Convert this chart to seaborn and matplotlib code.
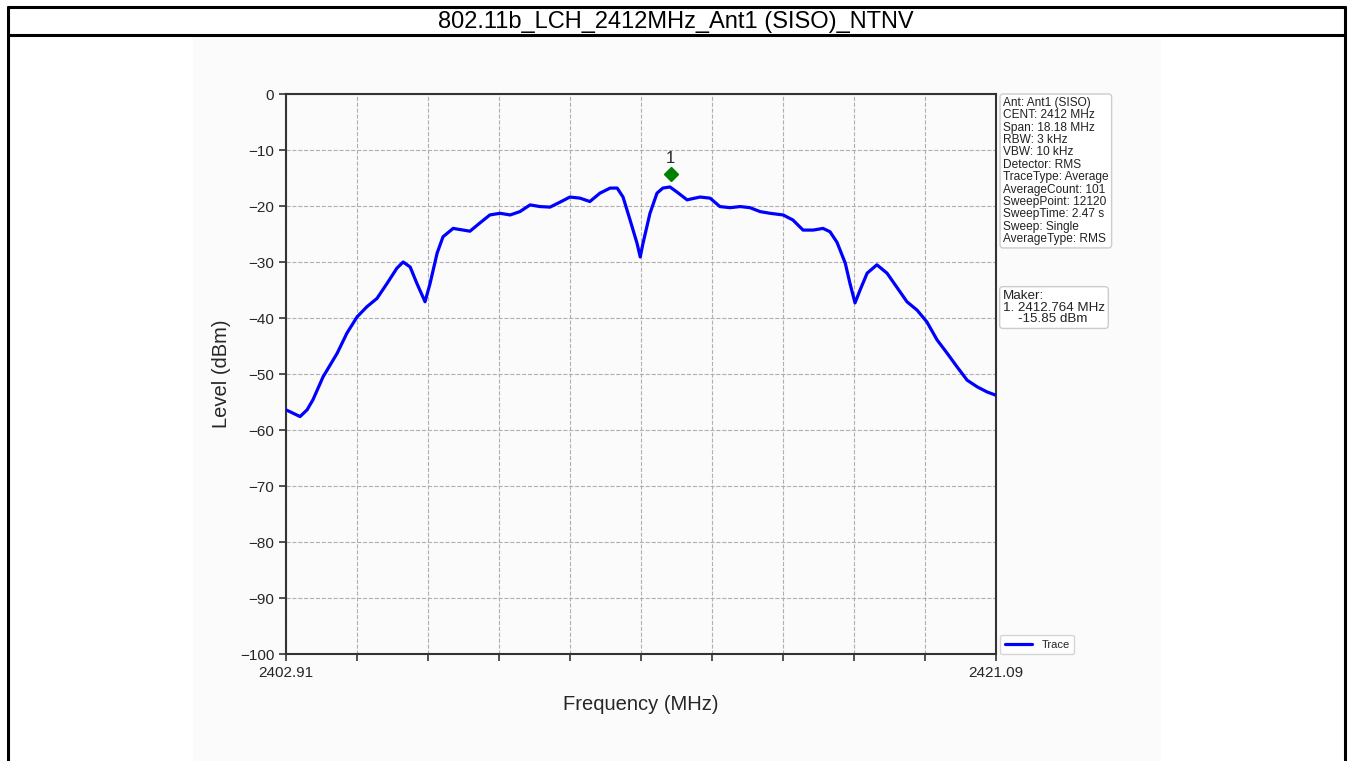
import numpy as np
import pandas as pd
import matplotlib
matplotlib.use("Agg")
import matplotlib.pyplot as plt
import seaborn as sns
from matplotlib.patches import Rectangle
from matplotlib.lines import Line2D

# spectrum trace (MHz, dBm)
freq_mhz = [2402.91, 2403.27, 2403.45, 2403.60, 2403.86, 2404.22, 2404.47, 2404.73,
            2404.98, 2405.24, 2405.50, 2405.75, 2405.91, 2406.09, 2406.26, 2406.47,
            2406.60, 2406.78, 2406.93, 2407.19, 2407.62, 2407.88, 2408.13, 2408.39,
            2408.65, 2408.90, 2409.16, 2409.41, 2409.67, 2409.93, 2410.18, 2410.44,
            2410.69, 2410.95, 2411.21, 2411.39, 2411.54, 2411.72, 2411.90, 2411.98,
            2412.05, 2412.23, 2412.41, 2412.56, 2412.74, 2412.92, 2413.18, 2413.51,
            2413.77, 2414.02, 2414.28, 2414.54, 2414.79, 2415.05, 2415.30, 2415.64,
            2415.89, 2416.15, 2416.41, 2416.66, 2416.84, 2417.02, 2417.23, 2417.35,
            2417.48, 2417.61, 2417.79, 2418.04, 2418.30, 2418.56, 2418.81, 2419.07,
            2419.32, 2419.58, 2419.84, 2420.09, 2420.35, 2420.61, 2420.86, 2421.09]
level_dbm = [-56.4, -57.6, -56.4, -54.6, -50.5, -46.3, -42.7, -39.8,
             -38.0, -36.5, -33.8, -31.1, -30.0, -30.9, -33.8, -37.1,
             -33.8, -28.4, -25.5, -24.0, -24.5, -23.0, -21.6, -21.3,
             -21.6, -21.0, -19.8, -20.1, -20.2, -19.3, -18.4, -18.6,
             -19.2, -17.7, -16.8, -16.8, -18.4, -22.5, -26.7, -29.1,
             -26.7, -21.3, -17.7, -16.8, -16.6, -17.5, -18.9, -18.4,
             -18.6, -20.1, -20.3, -20.1, -20.3, -21.0, -21.3, -21.6,
             -22.5, -24.3, -24.3, -24.0, -24.6, -26.5, -30.2, -33.8,
             -37.3, -35.0, -32.0, -30.5, -32.0, -34.6, -37.1, -38.6,
             -40.7, -43.9, -46.3, -48.7, -51.1, -52.3, -53.2, -53.8]

marker_freq = 2412.764
marker_level = -15.85

title = "802.11b_LCH_2412MHz_Ant1 (SISO)_NTNV"
info_lines = ["Ant: Ant1 (SISO)", "CENT: 2412 MHz", "Span: 18.18 MHz", "RBW: 3 kHz",
              "VBW: 10 kHz", "Detector: RMS", "TraceType: Average", "AverageCount: 101",
              "SweepPoint: 12120", "SweepTime: 2.47 s", "Sweep: Single", "AverageType: RMS"]
f_start, f_stop = 2402.91, 2421.09

df = pd.DataFrame({"Frequency": freq_mhz, "Level": level_dbm})

sns.set_style("ticks")
plt.rcParams['font.family'] = ['Liberation Sans', 'DejaVu Sans']

W, H = 1348, 761
fig = plt.figure(figsize=(W / 100, H / 100), dpi=100)
fig.patch.set_facecolor("white")

# report-table frame and the plot image background
bg = '#fbfbfb'
fig.add_artist(Rectangle((193 / W, 0), (1161 - 193) / W, (H - 36) / H,
                         transform=fig.transFigure, facecolor=bg, edgecolor='none', zorder=0))
for (x0, y0, x1, y1) in [(8, 7, 1345, 7), (8, 35, 1345, 35), (8, 7, 8, H), (1345, 7, 1345, H)]:
    fig.add_artist(Line2D([x0 / W, x1 / W], [1 - y0 / H, 1 - y1 / H], color='black',
                          lw=2.2, transform=fig.transFigure))
fig.text(676 / W, 1 - 22 / H, title, ha='center', va='center', fontsize=17, color='black')

ax = fig.add_axes([286 / W, 1 - 654 / H, (996 - 286) / W, (654 - 94) / H])
ax.set_facecolor(bg)

sns.lineplot(data=df, x="Frequency", y="Level", ax=ax, color='blue', lw=2.3,
             label='Trace', zorder=3)
ax.plot(marker_freq, marker_level + 1.6, marker='D', color='green', ms=7, zorder=4)
ax.text(marker_freq, marker_level + 3.0, '1', ha='center', va='bottom', fontsize=12)

ax.set_xlim(f_start, f_stop)
ax.set_ylim(-100, 0)
xt = np.linspace(f_start, f_stop, 11)
ax.set_xticks(xt)
ax.set_xticklabels([f"{f_start:.2f}"] + [""] * 9 + [f"{f_stop:.2f}"])
ax.set_yticks(np.arange(-100, 1, 10))
ax.tick_params(labelsize=11, length=5, width=1.2, color='#333333')
ax.grid(True, linestyle='--', color='#b0b0b0', lw=0.8)
for s in ax.spines.values():
    s.set_color('#333333')
    s.set_linewidth(1.5)
ax.set_xlabel("Frequency (MHz)", fontsize=14.5, labelpad=11)
ax.set_ylabel("Level (dBm)", fontsize=14.5, labelpad=6)

leg = ax.legend(loc='lower left', bbox_to_anchor=(1.006, 0.0), fontsize=8,
                frameon=True, fancybox=True, handlelength=2.5, borderaxespad=0.0)
leg.get_frame().set_edgecolor('#cccccc')
leg.get_frame().set_facecolor('white')

box = dict(boxstyle='round,pad=0.25', fc='white', ec='#cccccc', lw=1)
fig.text(1003 / W, 1 - 97 / H, "\n".join(info_lines), ha='left', va='top',
         fontsize=8.6, linespacing=1.04, bbox=box, color='#222222')
fig.text(1003 / W, 1 - 290 / H,
         f"Maker:\n1. {marker_freq:.3f} MHz\n    {marker_level:.2f} dBm",
         ha='left', va='top', fontsize=9.6, linespacing=0.95, bbox=box, color='#222222')

fig.savefig("out.png", dpi=100, facecolor=fig.get_facecolor())
